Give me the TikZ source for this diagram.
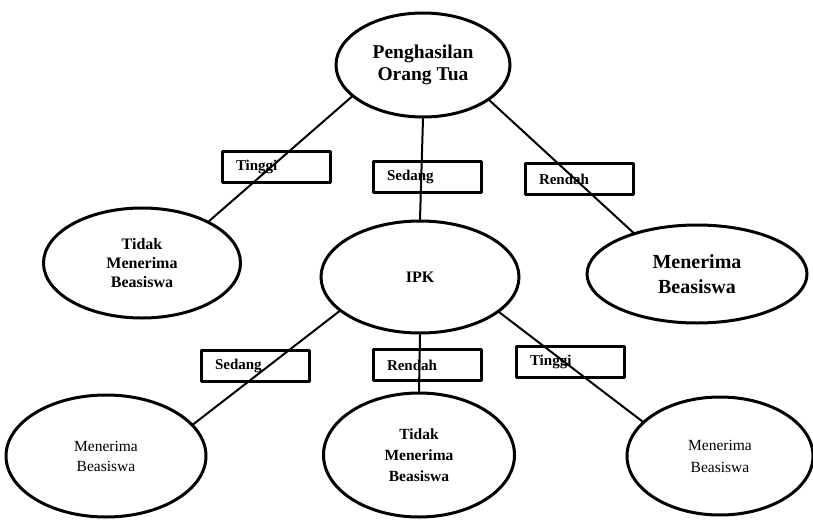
\documentclass[tikz,border=0pt]{standalone}
\usepackage{fontspec}
\setmainfont{Liberation Serif}
\usetikzlibrary{shapes.geometric}
\tikzset{
  oval/.style={ellipse, draw, line width=3pt, inner sep=0pt, align=center},
  tag/.style={draw, line width=3pt, text width=80pt, inner xsep=14pt, minimum height=31pt, align=left, font=\bfseries\fontsize{15}{17}\selectfont},
  branch/.style={line width=2pt}
}
\begin{document}
\begin{tikzpicture}[x=1pt, y=-1pt, line join=round, line cap=round]
        \useasboundingbox (0,0) rectangle (813,519);
        \node [oval, minimum width=174pt, minimum height=104pt, font=\bfseries\fontsize{19.5}{22}\selectfont] (ortu) at (423,65) {Penghasilan\\Orang Tua};
        \node [oval, minimum width=197pt, minimum height=110pt, font=\bfseries\fontsize{16}{19}\selectfont] (tolakA) at (142,263) {Tidak\\Menerima\\Beasiswa};
        \node [oval, minimum width=198pt, minimum height=112pt, font=\bfseries\fontsize{16}{19}\selectfont] (ipk) at (420,277) {IPK};
        \node [oval, minimum width=220pt, minimum height=98pt, font=\bfseries\fontsize{20}{25}\selectfont] (terimaA) at (697,274) {Menerima\\Beasiswa};
        \node [oval, minimum width=200pt, minimum height=122pt, font=\fontsize{15.5}{20}\selectfont] (terimaB) at (106,456) {Menerima\\Beasiswa};
        \node [oval, minimum width=191pt, minimum height=124pt, font=\bfseries\fontsize{15.5}{21}\selectfont] (tolakB) at (419,455) {Tidak\\Menerima\\Beasiswa};
        \node [oval, minimum width=186pt, minimum height=118pt, font=\fontsize{15.5}{22}\selectfont] (terimaC) at (720,456) {Menerima\\Beasiswa};

        \draw[branch] (ortu.204)--(tolakA.32) (ortu.south)--(ipk.north) (ortu.332)--(terimaA.147);
        \draw[branch] (ipk.203)--(terimaB.20) (ipk.south)--(tolakB.north) (ipk.336)--(terimaC.156);

        \node [tag] (t1) at (276,167) {Tinggi};
        \node [tag] (s1) at (427,177) {Sedang};
        \node [tag] (r1) at (579,179) {Rendah};
        \node [tag] (s2) at (255,366) {Sedang};
        \node [tag] (r2) at (427,365) {Rendah};
        \node [tag] (t2) at (570,362) {Tinggi};
\end{tikzpicture}
\end{document}
